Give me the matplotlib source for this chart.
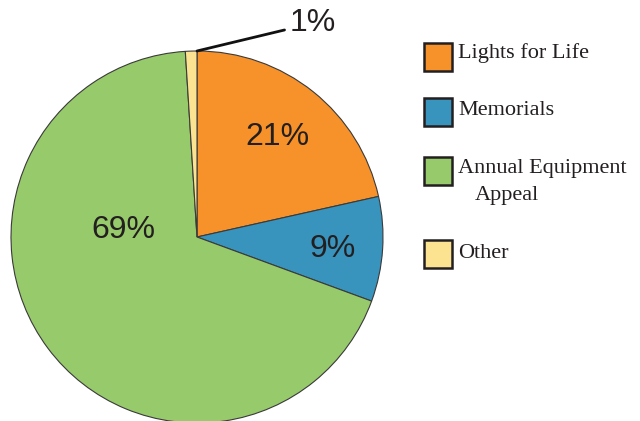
#!/usr/bin/env python

import matplotlib.pyplot as plt
from matplotlib.patches import Rectangle

categories = ['Lights for Life', 'Memorials', 'Annual Equipment', 'Other']
shares = [21.5, 9.1, 68.4, 1.0]
labels = ['21%', '9%', '69%', '1%']
colors = ['#F7922A', '#3893BD', '#97CA6A', '#FCE391']

W, H = 640, 421
fig = plt.figure(figsize=(W / 100, H / 100), dpi=100)

# pie axes placed in pixels: centre (197, 237), radius 186
cx, cy, r = 197, 237, 186
ax = fig.add_axes([(cx - r) / W, (H - cy - r) / H, 2 * r / W, 2 * r / H])
ax.pie(shares, colors=colors, startangle=90, counterclock=False, radius=1,
       wedgeprops=dict(edgecolor='#3a3a3a', linewidth=0.8))
ax.set_xlim(-1, 1)
ax.set_ylim(-1, 1)
ax.set_aspect('equal')
ax.axis('off')

# inner labels, (x, y) in units of the radius
pos = [(0.435, 0.54), (0.73, -0.065), (-0.395, 0.035)]
for (x, y), lab in zip(pos, labels[:3]):
    ax.text(x, y, lab, ha='center', va='center', fontsize=23,
            family='Liberation Sans', color='#231f20')

# leader line and label for the small slice
ax.annotate(labels[3], xy=(0.0, 1.0), xytext=(0.5, 1.15),
            fontsize=23, family='Liberation Sans', color='#231f20',
            ha='left', va='center', annotation_clip=False,
            arrowprops=dict(arrowstyle='-', color='#111111', lw=2,
                            shrinkA=2, shrinkB=0))

# legend drawn by hand
box_y = [43, 98, 157, 240]
text_y = [58, 115, 173, 258]
for yb, yt, c, name in zip(box_y, text_y, colors, categories):
    fig.patches.append(Rectangle((424 / W, 1 - (yb + 28) / H), 28 / W, 28 / H,
                                 transform=fig.transFigure, facecolor=c,
                                 edgecolor='#231f20', linewidth=1.8))
    fig.text(458 / W, 1 - yt / H, name, fontsize=16,
             family='Liberation Serif', color='#231f20',
             ha='left', va='baseline')
fig.text(475 / W, 1 - 200 / H, 'Appeal', fontsize=16,
         family='Liberation Serif', color='#231f20', ha='left', va='baseline')

fig.savefig('out.png', dpi=100)
